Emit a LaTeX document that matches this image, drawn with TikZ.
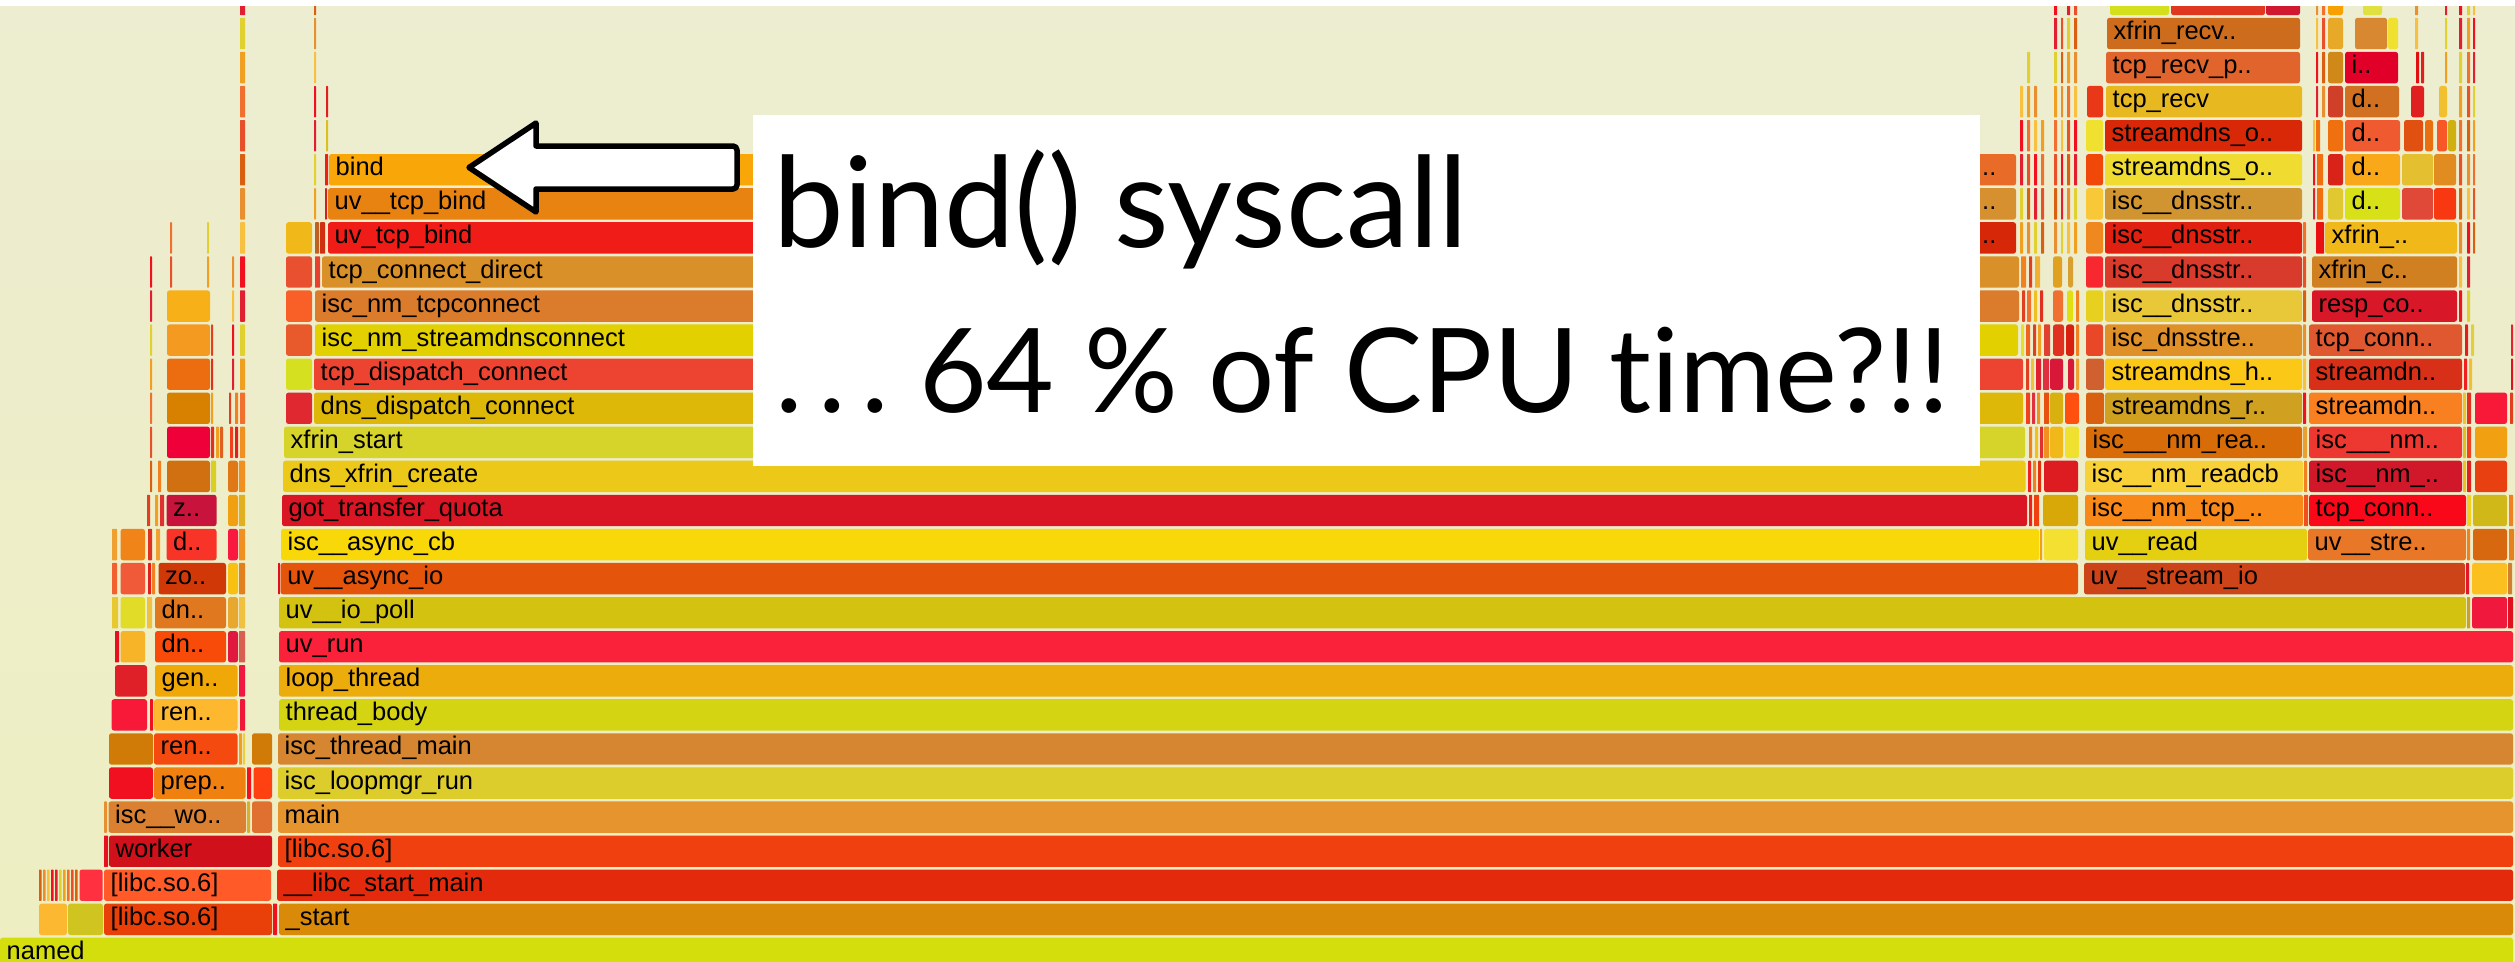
\documentclass[tikz,border=0pt]{standalone}
\usepackage{fontspec}
\setmainfont{Liberation Sans}
\newfontfamily\calloutfont[Ligatures={NoCommon,NoRare}]{Lato}

\newcounter{fbn}
\tikzset{
  lbl/.style={anchor=base west, inner sep=0pt, font=\fontsize{25.5}{26}\selectfont, text=black},
  callouttext/.style={anchor=base west, inner sep=0pt, font=\calloutfont\fontsize{126}{130}\selectfont, text=black},
  calloutsmall/.style={anchor=base west, inner sep=0pt, font=\calloutfont\fontsize{117}{120}\selectfont, text=black},
  blockarrow/.style={draw=black, fill=white, line width=5.5pt, line join=round},
  calloutbox/.style={fill=white, anchor=north west, inner sep=0pt, minimum width=1227pt, minimum height=351pt},
}
% frame row k: top at 937.7-34.07k, height 31.4 (units are pixels)
\newcommand\fb[4]{\definecolor{fbc}{HTML}{#4}\fill[fbc,rounded corners=2.5pt] (#1,{937.7-34.07*(#3)}) rectangle (#2,{969.1-34.07*(#3)});}
\newcommand\fs[4]{\definecolor{fbc}{HTML}{#4}\fill[fbc,rounded corners=0.6pt] (#1,{937.7-34.07*(#3)}) rectangle (#2,{969.1-34.07*(#3)});}
\newcommand\fl[5]{\fb{#1}{#2}{#3}{#4}\stepcounter{fbn}\edef\fbname{fr\arabic{fbn}}\node[lbl] (\fbname) at ({#1+6.5},{959.4-34.07*(#3)}) {#5};}
% thin frames stacked over several rows, warm colours picked from a small palette
\newcommand\palette[1]{\ifcase#1 E8502A\or F0A020\or E02030\or F8C040\or D86010\or F07030\or E0D030\or F01020\or E89030\else E8502A\fi}
\newcommand\fcol[4]{\foreach \kk in {#3,...,#4}{\pgfmathtruncatemacro\ci{mod(\kk*5+#1,9)}\edef\tmp{\noexpand\fs{#1}{#2}{\kk}{\palette{\ci}}}\tmp}}

\begin{document}
\begin{tikzpicture}[x=1pt,y=-1pt]
\useasboundingbox (0,0) rectangle (2515,961);
\clip (0,0) rectangle (2515,961);
\shade[top color={rgb,255:red,237;green,237;blue,209}, bottom color={rgb,255:red,238;green,238;blue,194}] (0,0) rectangle (2515,961);

% ---- main stack ----
\fl{0}{2513}{0}{D4DE0C}{named}
\fl{279}{2513}{1}{D88A08}{\_start}
\fl{277}{2513}{2}{E42A0C}{\_\_libc\_start\_main}
\fl{278}{2513}{3}{F04010}{[libc.so.6]}
\fl{278}{2513}{4}{E6952E}{main}
\fl{278}{2513}{5}{DCCC2C}{isc\_loopmgr\_run}
\fl{278}{2513}{6}{D68630}{isc\_thread\_main}
\fl{279}{2513}{7}{D4D412}{thread\_body}
\fl{279}{2513}{8}{ECAC0C}{loop\_thread}
\fl{279}{2513}{9}{FA223A}{uv\_run}
\fl{279}{2466}{10}{D4C210}{uv\_\_io\_poll}
\fl{280.6}{2078}{11}{E4540A}{uv\_\_async\_io}
\fl{281}{2039}{12}{F8D808}{isc\_\_async\_cb}
\fl{282}{2027}{13}{DA1624}{got\_transfer\_quota}
\fl{283}{2025.5}{14}{ECC818}{dns\_xfrin\_create}
\fl{284}{2025}{15}{D6D42A}{xfrin\_start}
\fl{314}{2023}{16}{DEB808}{dns\_dispatch\_connect}
\fl{314}{2023}{17}{EC4430}{tcp\_dispatch\_connect}
\fl{315}{2018}{18}{E2D000}{isc\_nm\_streamdnsconnect}
\fl{315}{2019}{19}{DA7C2C}{isc\_nm\_tcpconnect}
\fl{322}{2019}{20}{DA9028}{tcp\_connect\_direct}
\fl{328}{1900}{21}{F01C18}{uv\_tcp\_bind}
\fl{328}{1900}{22}{E88210}{uv\_\_tcp\_bind}
\fl{329}{1900}{23}{F8A608}{bind}
\fb{1905}{2016}{21}{D62808}\node[lbl] (dotsa) at (1982,{959.4-34.07*21}) {..};
\fb{1905}{2016}{22}{D69030}\node[lbl] (dotsb) at (1982,{959.4-34.07*22}) {..};
\fb{1905}{2016}{23}{E86C28}\node[lbl] (dotsc) at (1982,{959.4-34.07*23}) {..};

% ---- left stacks ----
\fb{39}{67}{1}{FBB830}\fb{68}{103}{1}{D0C420}\fl{104}{272}{1}{E84008}{[libc.so.6]}\fs{273}{277}{1}{F01020}
\foreach \xx in {39,43,47,51,55,59,63,67,71,75}{\fcol{\xx}{\xx+2.6}{2}{2}}
\fb{79.5}{102.7}{2}{FF3040}\fl{104}{271}{2}{FF5A28}{[libc.so.6]}
\fs{104}{108}{3}{E81020}\fl{109}{272}{3}{D0101A}{worker}
\fs{104}{107}{4}{E89030}\fl{108.5}{246}{4}{DA8030}{isc\_\_wo..}\fs{247}{250}{4}{D8B030}\fb{252}{272}{4}{E07030}
\fb{109}{153}{5}{F01020}\fl{154}{245.5}{5}{F08010}{prep..}\fs{247}{251}{5}{F01020}\fb{253.5}{272}{5}{FF4010}
\fb{109}{153}{6}{D07A08}\fl{154}{237.5}{6}{F44A10}{ren..}\fs{239}{242}{6}{F0A020}\fs{243}{245}{6}{E8D040}\fb{252}{272}{6}{D07A08}
\fb{111.6}{147}{7}{F81838}\fs{150}{153}{7}{F01020}\fl{154}{237.5}{7}{FDB830}{ren..}\fs{240}{245}{7}{F01838}
\fb{115}{147}{8}{E02028}\fl{155}{237.5}{8}{F0A808}{gen..}\fs{239}{245}{8}{F01840}
\fs{115}{119}{9}{E81020}\fb{120.5}{145}{9}{F8B428}\fl{155}{226}{9}{F84A08}{dn..}\fb{228}{238}{9}{E01840}\fs{239}{245}{9}{D86050}
\fs{112}{118}{10}{E8C830}\fb{120.5}{145}{10}{E0DC28}\fs{147}{152}{10}{F0C040}\fl{155}{226}{10}{E07820}{dn..}\fb{228}{238}{10}{E8A830}\fs{239}{245}{10}{F0C040}
\fs{112}{117}{11}{F06030}\fb{120.5}{145}{11}{F05A38}\fs{148}{151}{11}{E02020}\fs{152}{155}{11}{F08020}\fl{158.5}{226}{11}{D03808}{zo..}\fb{228}{238}{11}{F8C010}\fs{239}{245}{11}{E08020}\fs{278}{280}{11}{E01020}
\fs{112}{117}{12}{F0A030}\fb{120.5}{145}{12}{F08418}\fs{148}{152}{12}{E03020}\fs{156}{160}{12}{F0A030}\fl{166.5}{216.5}{12}{F83428}{d..}\fb{228}{238}{12}{F81840}\fs{239}{245}{12}{F09020}
\fs{147}{150}{13}{E04020}\fs{155}{158}{13}{F0A020}\fs{160}{164}{13}{E03030}\fl{166.5}{216.5}{13}{C8143C}{z..}\fb{228}{238}{13}{F0A010}\fs{239}{245}{13}{E0B020}
\fs{158}{161}{14}{F08020}\fb{167}{210}{14}{D07010}\fs{211}{216}{14}{D8D020}\fb{228}{238}{14}{E07818}\fs{239}{245}{14}{F09020}
\fb{167}{210}{15}{F00038}\fs{211}{214}{15}{E03020}\fs{216}{219}{15}{F0A020}\fs{220}{223}{15}{E06020}\fs{230}{233}{15}{F04020}\fs{235}{238}{15}{E02020}\fs{240}{245}{15}{F09020}
\fb{167}{210}{16}{D88000}\fs{211}{213}{16}{F0A020}\fs{229}{231}{16}{E04020}\fs{235}{238}{16}{F08020}\fb{286}{312}{16}{E02830}
\fb{167}{210}{17}{EC6C10}\fs{211}{213}{17}{E03020}\fb{286}{312}{17}{D4E020}
\fb{167}{210}{18}{F59A20}\fs{211}{213}{18}{E04020}\fb{286}{312}{18}{E85A2C}
\fb{167}{210}{19}{F8B018}\fb{286}{312}{19}{F86028}
\fb{286}{312}{20}{E85030}\fs{315}{320}{20}{E84030}
\fb{286}{312}{21}{F0B818}\fs{315}{319}{21}{C06020}\fs{320}{325}{21}{D03010}
\fs{325}{327}{22}{D02020}\fs{325}{328}{23}{F02010}\fs{326}{328}{24}{D8C020}\fs{326}{328}{25}{E02020}
\fcol{240}{245}{16}{28}
\fcol{314}{316}{22}{28}
\fcol{150}{152}{14}{20}
\fcol{170}{172}{20}{21}
\fcol{207}{209}{20}{21}
\fcol{232}{234}{17}{20}

% ---- between the main stack and the right stacks ----
\fs{2040}{2042}{12}{F0A010}\fb{2044}{2078}{12}{F4E030}
\fs{2029}{2032}{13}{F02020}\fs{2034}{2039}{13}{F04010}\fb{2043}{2078}{13}{D8A808}
\fs{2028}{2031}{14}{F02020}\fs{2033}{2036}{14}{F08020}\fs{2038}{2041}{14}{E03010}\fb{2044}{2078}{14}{DC1C20}
\fs{2029}{2032}{15}{F08020}\fs{2035}{2038}{15}{F0C020}\fs{2040}{2043}{15}{E03030}\fs{2044}{2049}{15}{F09020}\fb{2050}{2063}{15}{F0B818}\fb{2065}{2079}{15}{F0E030}
\fs{2026}{2030}{16}{F04020}\fs{2032}{2035}{16}{E03040}\fs{2037}{2040}{16}{F09020}\fs{2044}{2049}{16}{E85010}\fb{2050}{2063}{16}{D8B010}\fb{2065}{2079}{16}{FF5010}
\fs{2026}{2029}{17}{E04020}\fs{2031}{2034}{17}{F0C040}\fs{2036}{2041}{17}{E02030}\fs{2043}{2049}{17}{E03040}\fb{2050}{2063}{17}{D81838}\fb{2068}{2074}{17}{D81838}\fs{2076}{2079}{17}{F0A030}
\fs{2021}{2024}{18}{E0E030}\fs{2026}{2030}{18}{F06020}\fs{2033}{2036}{18}{E04020}\fs{2038}{2041}{18}{F0A020}\fs{2044}{2050}{18}{E04030}\fb{2053}{2064}{18}{E03020}\fb{2066}{2074}{18}{D82010}\fs{2076}{2079}{18}{F08020}
\fs{2022}{2025}{19}{E04020}\fs{2027}{2031}{19}{F07030}\fs{2034}{2037}{19}{F0C020}\fs{2040}{2043}{19}{E03020}\fb{2053}{2063}{19}{F07030}\fb{2067}{2073}{19}{E0E010}\fs{2076}{2079}{19}{F08020}
\fs{2021}{2026}{20}{F08020}\fs{2029}{2032}{20}{E04020}\fs{2035}{2040}{20}{F0B030}\fb{2053}{2062}{20}{E0A020}\fb{2068}{2073}{20}{D8A030}
\fcol{2020}{2023}{21}{25}
\fcol{2027}{2030}{21}{26}
\fcol{2034}{2037}{21}{25}
\fcol{2041}{2044}{21}{24}
\fcol{2054}{2057}{21}{28}
\fcol{2061}{2063}{21}{27}
\fcol{2067}{2070}{21}{28}
\fcol{2074}{2077}{21}{28}

% ---- right stacks ----
\fs{2467}{2470}{10}{C8A030}\fb{2472}{2507}{10}{F0183C}\fs{2508}{2513}{10}{E01020}
\fl{2084}{2465}{11}{CC4418}{uv\_\_stream\_io}\fs{2466}{2469}{11}{E01828}\fb{2472}{2507}{11}{FBC020}\fs{2508}{2512}{11}{D08030}
\fl{2085}{2307}{12}{E4D010}{uv\_\_read}\fl{2308}{2466}{12}{E87828}{uv\_\_stre..}\fs{2467}{2470}{12}{F08020}\fb{2473}{2507}{12}{D86810}\fs{2509}{2514}{12}{E88020}
\fl{2085}{2303}{13}{F88818}{isc\_\_nm\_tcp\_..}\fs{2304}{2308}{13}{F05020}\fl{2309}{2466}{13}{F80818}{tcp\_conn..}\fs{2467}{2471}{13}{F0D020}\fb{2473}{2507}{13}{D0B818}\fs{2509}{2513}{13}{F08020}
\fl{2085}{2303}{14}{F8D038}{isc\_\_nm\_readcb}\fs{2304}{2307}{14}{F08020}\fl{2309}{2462}{14}{D0182A}{isc\_\_nm\_..}\fs{2463}{2466}{14}{F0C020}\fs{2467}{2471}{14}{E02020}\fb{2475}{2507}{14}{E84010}
\fl{2086}{2302}{15}{D86C08}{isc\_\_\_nm\_rea..}\fs{2303}{2307}{15}{E8A030}\fl{2309}{2462}{15}{EC3830}{isc\_\_\_nm..}\fs{2463}{2466}{15}{E0C020}\fs{2467}{2471}{15}{F04020}\fb{2475}{2507}{15}{F0A010}
\fb{2086}{2104}{16}{D86010}\fl{2105}{2302}{16}{D0A020}{streamdns\_r..}\fl{2309}{2462}{16}{F88020}{streamdn..}\fs{2463}{2466}{16}{F0C030}\fs{2467}{2471}{16}{E03020}\fb{2475}{2507}{16}{F81838}\fs{2510}{2513}{16}{E04020}
\fb{2086}{2104}{17}{D06030}\fl{2105}{2302}{17}{FCC818}{streamdns\_h..}\fl{2309}{2462}{17}{D83018}{streamdn..}\fs{2464}{2467}{17}{F02020}\fs{2469}{2472}{17}{F0C030}\fs{2511}{2513}{17}{E01020}
\fb{2086}{2103}{18}{E84828}\fl{2105}{2302}{18}{E09028}{isc\_dnsstre..}\fl{2309}{2462}{18}{E05830}{tcp\_conn..}\fs{2465}{2468}{18}{E02020}\fs{2471}{2474}{18}{E0D040}\fs{2511}{2513}{18}{E82030}
\fb{2086}{2103}{19}{E8D020}\fl{2105}{2302}{19}{E8C838}{isc\_\_dnsstr..}\fl{2312}{2457}{19}{D81828}{resp\_co..}
\fb{2086}{2103}{20}{F82830}\fl{2105}{2302}{20}{D83A2C}{isc\_\_dnsstr..}\fl{2312}{2457}{20}{D08020}{xfrin\_c..}
\fb{2086}{2103}{21}{F08820}\fl{2105}{2302}{21}{E02010}{isc\_\_dnsstr..}\fs{2316}{2324}{21}{E81010}\fl{2325}{2457}{21}{F0B818}{xfrin\_..}
\fb{2086}{2103}{22}{F8C838}\fl{2105}{2302}{22}{D09430}{isc\_\_dnsstr..}\fs{2317}{2323}{22}{F07010}\fb{2328}{2343}{22}{E0C830}\fl{2345}{2400}{22}{D8E018}{d..}\fb{2402}{2433}{22}{E04838}\fb{2434}{2456}{22}{F83810}
\fb{2086}{2103}{23}{F04808}\fl{2105}{2302}{23}{F0DC30}{streamdns\_o..}\fs{2317}{2323}{23}{F07010}\fb{2328}{2343}{23}{D82418}\fl{2345}{2400}{23}{F8A818}{d..}\fb{2402}{2433}{23}{E4C030}\fb{2434}{2456}{23}{E08C20}
\fb{2086}{2103}{24}{F0E030}\fl{2105}{2302}{24}{D82808}{streamdns\_o..}\fs{2316}{2320}{24}{F07010}\fb{2328}{2343}{24}{F07010}\fl{2345}{2400}{24}{F05A30}{d..}\fb{2404}{2423}{24}{E05010}\fb{2425}{2433}{24}{E87010}\fb{2437}{2447}{24}{F85828}\fb{2448}{2456}{24}{D0B010}
\fb{2087}{2103}{25}{E83818}\fl{2106}{2302}{25}{E8B820}{tcp\_recv}\fb{2328}{2343}{25}{D04028}\fl{2345}{2399}{25}{D07020}{d..}\fb{2411}{2424}{25}{E02020}\fb{2439}{2447}{25}{F0C030}
\fl{2106}{2300}{26}{E0642C}{tcp\_recv\_p..}\fb{2328}{2343}{26}{D08818}\fl{2345}{2398}{26}{E00028}{i..}\fs{2416}{2419}{26}{E01010}\fs{2421}{2424}{26}{E02020}
\fl{2107}{2300}{27}{CC6C1C}{xfrin\_recv..}\fb{2328}{2343}{27}{E8A828}\fb{2355}{2387}{27}{D88830}\fb{2388}{2398}{27}{F0E030}
\fb{2110}{2169}{28}{D4E01C}\fb{2171}{2265}{28}{E03820}\fb{2266}{2300}{28}{D01830}\fb{2328}{2343}{28}{F8A000}\fb{2363}{2382}{28}{E0E040}
\fcol{2459}{2462}{19}{28}
\fcol{2467}{2470}{19}{28}
\fcol{2473}{2475}{21}{28}
\fcol{2303}{2306}{16}{21}
\fcol{2313}{2315}{22}{24}
\fcol{2316}{2318}{25}{28}
\fcol{2322}{2325}{25}{28}
\fcol{2415}{2418}{27}{28}
\fcol{2445}{2447}{26}{28}

% strip above the graph
\fill[white] (0,0) rectangle (2515,6);

% ---- callout ----
\node[calloutbox] (callout) at (753,115) {};
\node[callouttext] (line1) at (773,247) {bind() syscall};
\node[calloutsmall] (line2) at (775,412) {\makebox[43pt][l]{.}\makebox[43pt][l]{.}\makebox[58pt][l]{.}64 \% of CPU time?!!};
\coordinate (tip) at (469,167.5);
\draw[blockarrow] (tip) -- (536,123) -- (536,146) [rounded corners=4pt] -- (737,146) -- (737,189) [sharp corners] -- (536,189) -- (536,212) -- cycle;
\end{tikzpicture}
\end{document}
